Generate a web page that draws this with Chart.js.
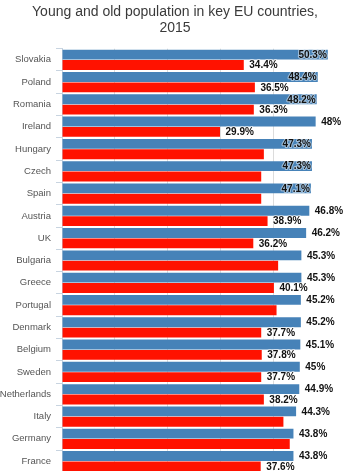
<!DOCTYPE html>
<html>
<head>
<meta charset="utf-8">
<title>Young and old population in key EU countries, 2015</title>
<script src="https://cdn.jsdelivr.net/npm/chart.js@4.4.0/dist/chart.umd.min.js"></script>
<style>
  html, body { margin: 0; padding: 0; background: #ffffff; overflow: hidden; }
  #chartBox { position: relative; width: 350px; height: 483px; }
</style>
</head>
<body>
<div id="chartBox"><canvas id="populationChart"></canvas></div>
<script>
// Countries, top to bottom
var countries = [
  'Slovakia', 'Poland', 'Romania', 'Ireland', 'Hungary', 'Czech', 'Spain',
  'Austria', 'UK', 'Bulgaria', 'Greece', 'Portugal', 'Denmark', 'Belgium',
  'Sweden', 'Netherlands', 'Italy', 'Germany', 'France'
];

// Blue series (labelled on every bar)
var youngValues = [
  50.3, 48.4, 48.2, 48, 47.3, 47.3, 47.1, 46.8, 46.2, 45.3,
  45.3, 45.2, 45.2, 45.1, 45, 44.9, 44.3, 43.8, 43.8
];

// Red series (some bars have no label in the picture, values estimated)
var oldValues = [
  34.4, 36.5, 36.3, 29.9, 38.2, 37.7, 37.7, 38.9, 36.2, 40.9,
  40.1, 40.6, 37.7, 37.8, 37.7, 38.2, 41.9, 43.1, 37.6
];

// Which red values carry a label
var oldLabelShown = [
  true, true, true, true, false, false, false, true, true, false,
  true, false, true, true, true, true, false, false, true
];

var axisMin = 0;
var axisMax = 54.5;
var gridStep = 10;

// Draws the value labels next to (or inside) the bar ends
var valueLabelsPlugin = {
  id: 'valueLabels',
  afterDatasetsDraw: function (chart) {
    var ctx = chart.ctx;
    var area = chart.chartArea;
    ctx.save();
    ctx.font = 'bold 10px "Liberation Sans", Arial, sans-serif';
    ctx.textBaseline = 'middle';
    ctx.lineJoin = 'round';
    for (var d = 0; d < chart.data.datasets.length; d++) {
      var meta = chart.getDatasetMeta(d);
      var values = chart.data.datasets[d].data;
      for (var i = 0; i < meta.data.length; i++) {
        if (d === 1 && !oldLabelShown[i]) {
          continue;
        }
        var bar = meta.data[i];
        var text = values[i] + '%';
        var w = ctx.measureText(text).width;
        var x = bar.x + 5.5;
        if (x + w > area.right - 6) {
          // no room outside, put it inside the bar end
          x = bar.x - 1 - w;
        }
        var y = bar.y + 0.5;
        ctx.textAlign = 'left';
        ctx.lineWidth = 2;
        ctx.strokeStyle = 'rgba(255,255,255,0.5)';
        ctx.strokeText(text, x, y);
        ctx.fillStyle = '#111111';
        ctx.fillText(text, x, y);
      }
    }
    ctx.restore();
  }
};

// Create the chart
var ctx = document.getElementById('populationChart').getContext('2d');
var populationChart = new Chart(ctx, {
  type: 'bar',
  data: {
    labels: countries,
    datasets: [{
      label: 'Young',
      data: youngValues,
      backgroundColor: '#4682b8',
      barPercentage: 0.95,
      categoryPercentage: 0.93
    }, {
      label: 'Old',
      data: oldValues,
      backgroundColor: '#ff1200',
      barPercentage: 0.95,
      categoryPercentage: 0.93
    }]
  },
  options: {
    indexAxis: 'y',
    responsive: true,
    maintainAspectRatio: false,
    animation: false,
    layout: { padding: 0 },
    plugins: {
      legend: { display: false },
      tooltip: { enabled: false },
      title: {
        display: true,
        text: ['Young and old population in key EU countries,', '2015'],
        color: '#3a3a3a',
        font: { family: '"Liberation Sans", Arial, sans-serif', size: 14, weight: 'normal', lineHeight: 1.15 },
        padding: { top: 4, bottom: 12.5 }
      }
    },
    scales: {
      x: {
        min: axisMin,
        max: axisMax,
        afterFit: function (scale) {
          scale.height = 0;
        },
        ticks: { display: false, stepSize: gridStep },
        border: { display: false },
        grid: {
          drawTicks: false,
          color: function (c) {
            return (c.tick && c.tick.value % gridStep === 0 && c.tick.value > 0) ? '#dcdcdc' : 'rgba(0,0,0,0)';
          }
        }
      },
      y: {
        afterFit: function (scale) {
          scale.width = 62;
        },
        ticks: {
          color: '#555555',
          padding: 5,
          font: { family: '"Liberation Sans", Arial, sans-serif', size: 9.5 }
        },
        border: { display: true, color: '#c8d4e0' },
        grid: {
          drawOnChartArea: false,
          drawTicks: true,
          tickLength: 6,
          color: '#c8d4e0'
        }
      }
    }
  },
  plugins: [valueLabelsPlugin]
});
</script>
</body>
</html>
